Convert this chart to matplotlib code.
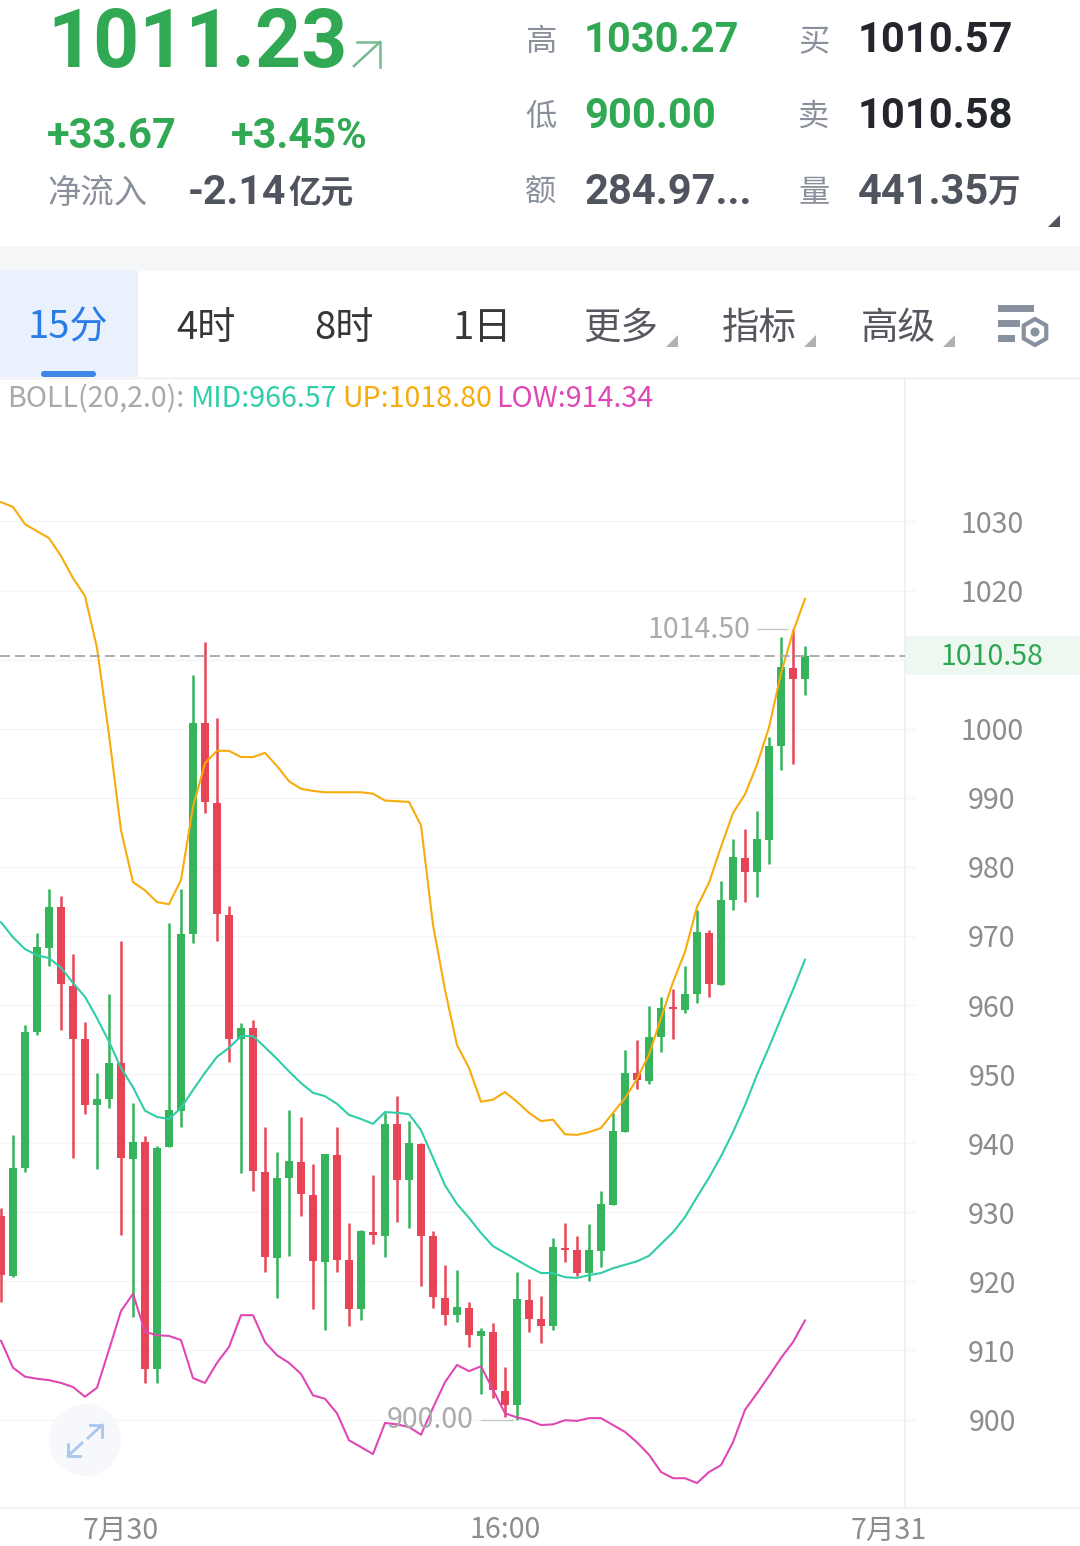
import matplotlib
matplotlib.use("Agg")
import matplotlib.pyplot as plt
from matplotlib.patches import Rectangle, Circle, Polygon, FancyBboxPatch, RegularPolygon

plt.rcParams['font.family'] = ['Noto Sans CJK SC', 'DejaVu Sans']

# 15-minute candles, oldest first
open_ = [929.5, 920.8, 936.4, 956.1, 968.2, 974.2, 962.8, 955.1, 945.5, 946.4, 951.6, 937.7,
         940.2, 907.3, 939.4, 944.7, 970.3, 1000.8, 989.2, 973.0, 955.1, 956.7, 935.8, 923.4,
         935.0, 937.3, 932.5, 922.8, 938.3, 923.1, 916.0, 927.1, 926.6, 942.8, 934.7, 939.9,
         926.6, 917.6, 915.1, 916.1, 912.1, 912.7, 904.1, 902.1, 917.3, 914.5, 913.5, 924.8,
         924.5, 921.2, 924.4, 931.1, 941.6, 950.2, 949.0, 955.4, 959.7, 959.3, 961.6, 970.4,
         962.9, 975.2, 981.3, 979.3, 983.9, 997.5, 1008.8, 1007.2]
high = [930.6, 941.2, 957.1, 970.4, 976.8, 975.8, 967.4, 957.5, 950.2, 961.6, 969.3, 945.8,
        941.0, 939.6, 971.9, 976.8, 1007.8, 1012.6, 1001.5, 974.3, 957.4, 957.8, 942.3, 938.7,
        944.8, 943.8, 937.0, 938.4, 942.3, 928.4, 927.4, 935.4, 944.4, 946.8, 943.2, 940.0,
        927.3, 922.4, 921.6, 917.0, 913.2, 914.0, 907.6, 921.4, 920.3, 917.9, 926.3, 928.4,
        926.6, 928.3, 933.1, 944.4, 953.5, 954.9, 959.9, 961.2, 962.3, 965.6, 973.7, 970.9,
        977.9, 984.1, 985.5, 988.1, 998.8, 1013.3, 1014.5, 1012.0]
low = [917.0, 920.6, 935.8, 955.7, 965.6, 956.4, 937.9, 944.2, 936.3, 945.1, 926.7, 914.8,
       905.3, 905.3, 939.4, 942.3, 969.0, 987.8, 969.3, 951.8, 935.7, 933.1, 921.4, 917.6,
       923.7, 929.5, 916.0, 913.0, 921.4, 913.5, 914.4, 925.4, 923.5, 928.6, 927.7, 919.3,
       916.1, 913.7, 914.1, 910.5, 903.7, 903.1, 900.4, 900.0, 912.7, 911.1, 913.0, 922.8,
       920.8, 920.0, 922.1, 931.1, 941.6, 947.8, 948.6, 953.2, 955.1, 958.8, 960.3, 961.2,
       962.9, 973.8, 974.9, 975.6, 980.4, 994.0, 994.9, 1004.9]
close = [920.9, 936.4, 956.1, 968.4, 974.2, 963.0, 955.1, 945.5, 946.4, 951.6, 937.9, 940.2,
         907.3, 939.3, 944.8, 970.3, 1000.8, 989.4, 973.2, 955.1, 956.7, 936.0, 923.5, 935.0,
         937.4, 932.6, 922.9, 938.4, 923.1, 916.0, 927.3, 926.7, 942.8, 934.7, 940.0, 926.6,
         917.7, 915.1, 916.3, 912.2, 912.8, 904.3, 902.1, 917.4, 914.5, 913.5, 925.0, 924.5,
         921.2, 924.5, 931.2, 941.8, 950.2, 949.1, 955.4, 959.6, 959.4, 961.6, 970.6, 963.0,
         975.2, 981.4, 979.3, 984.0, 997.5, 1009.0, 1007.2, 1010.58]

# Bollinger bands (20, 2.0)
boll_mid = [972.0, 969.8, 968.1, 967.2, 966.8, 965.4, 963.2, 961.2, 958.1, 954.7, 950.9, 948.1,
            944.7, 943.8, 943.5, 945.1, 947.7, 950.2, 952.5, 953.8, 955.5, 955.5, 953.9, 952.2,
            950.4, 948.7, 947.3, 946.8, 945.7, 944.1, 943.5, 942.8, 944.5, 944.4, 944.2, 941.9,
            937.9, 933.9, 931.2, 929.2, 927.0, 925.1, 924.1, 923.1, 922.1, 921.2, 921.2, 920.6,
            920.5, 920.9, 921.2, 921.9, 922.4, 922.9, 923.7, 925.4, 927.1, 929.3, 932.2, 935.0,
            938.1, 941.6, 945.5, 949.9, 953.9, 958.1, 962.2, 966.57]
boll_up = [1032.8, 1032.1, 1029.6, 1028.6, 1027.6, 1025.0, 1021.8, 1019.2, 1011.7, 999.1, 985.3, 977.8,
           976.6, 974.9, 974.6, 978.1, 988.7, 995.0, 996.8, 996.8, 995.9, 995.9, 996.5, 994.6,
           992.4, 991.3, 991.0, 990.8, 990.8, 990.8, 990.8, 990.6, 989.6, 989.5, 989.4, 986.0,
           971.6, 962.2, 954.2, 950.9, 946.0, 946.3, 947.4, 946.0, 944.4, 943.2, 943.4, 941.3,
           941.2, 941.6, 942.2, 944.4, 946.5, 949.3, 952.8, 958.1, 963.3, 967.7, 974.2, 977.7,
           982.9, 987.8, 990.5, 994.8, 1000.2, 1008.0, 1014.0, 1018.80]
boll_low = [911.4, 907.5, 906.2, 905.9, 905.7, 905.3, 904.7, 903.3, 904.6, 910.1, 915.7, 918.2,
            912.7, 912.2, 912.1, 911.5, 906.0, 905.3, 908.2, 910.5, 915.1, 915.1, 911.2, 909.3,
            908.2, 906.6, 903.5, 903.0, 900.9, 897.0, 896.0, 895.0, 899.5, 899.3, 898.9, 897.8,
            901.7, 905.4, 907.9, 907.0, 907.7, 904.3, 900.9, 900.3, 899.9, 899.2, 899.3, 899.9,
            899.8, 900.2, 900.2, 899.2, 898.2, 896.7, 894.9, 892.4, 891.5, 891.5, 890.8, 892.4,
            893.4, 896.7, 901.4, 903.8, 906.3, 908.9, 911.2, 914.34]

y_ticks = [900, 910, 920, 930, 940, 950, 960, 970, 980, 990, 1000, 1010, 1020, 1030]
y_tick_labels = ['900', '910', '920', '930', '940', '950', '960', '970', '980', '990', '1000', '', '1020', '1030']
x_ticks = [10, 42, 74]
x_tick_labels = ['7月30', '16:00', '7月31']
last_price = 1010.58
peak_index, peak_label = 66, '1014.50'
trough_index, trough_label = 43, '900.00'

GREEN = '#35b45b'
RED = '#e74555'
TEAL = '#2fcda9'
ORANGE = '#f8ab0c'
MAGENTA = '#df48b4'
HEADER_GREEN = '#31a853'
GRID = '#f3f4f5'

W, H = 1080, 1546
fig = plt.figure(figsize=(W / 100, H / 100), dpi=100, facecolor='white')


def px_box(x0, y0, x1, y1):
    return [x0 / W, 1 - y1 / H, (x1 - x0) / W, (y1 - y0) / H]


# Price panel
ax = fig.add_axes(px_box(0, 378, 905, 1508))
ax.set_xlim(-1 / 12, 905 / 12 - 1 / 12)
ax.set_ylim(887.19, 1050.77)
ax.set_facecolor('white')
for side in ('top', 'left'):
    ax.spines[side].set_visible(False)
for side in ('right', 'bottom'):
    ax.spines[side].set_color('#eeeff0')
    ax.spines[side].set_linewidth(1.2)

ax.yaxis.tick_right()
ax.set_yticks(y_ticks, y_tick_labels)
ax.tick_params(axis='y', length=7.2, width=0.9, color=GRID, pad=55.4, labelsize=20.6, labelcolor='#8c8c8c')
for lbl in ax.get_yticklabels():
    lbl.set_ha('center')
    lbl.set_va('center_baseline')
ax.set_xticks(x_ticks, x_tick_labels)
ax.tick_params(axis='x', length=0, pad=5.4, labelsize=20.6, labelcolor='#8c8c8c')
ax.grid(axis='y', color=GRID, linewidth=0.9, zorder=0)
ax.set_axisbelow(True)

# Candles: thin wick plus a wider body
for i, (o, h, l, c) in enumerate(zip(open_, high, low, close)):
    col = GREEN if c >= o else RED
    ax.vlines(i, l, h, color=col, linewidth=1.8, zorder=2)
    ax.bar(i, abs(c - o), bottom=min(o, c), width=0.67, color=col, linewidth=0, zorder=2)

xs = list(range(len(close)))
ax.plot(xs, boll_mid, color=TEAL, linewidth=1.5, zorder=3)
ax.plot(xs, boll_up, color=ORANGE, linewidth=1.5, zorder=3)
ax.plot(xs, boll_low, color=MAGENTA, linewidth=1.5, zorder=3)

# Last-price marker across the panel and into the axis gutter
ax.axhline(last_price, color='#ababab', linewidth=1.4, dashes=(5.14, 2.57), zorder=4)
ax.add_patch(Rectangle((1, last_price - 2.8), 175 / 905, 5.6, transform=ax.get_yaxis_transform(),
                       facecolor='#ecf8f0', edgecolor='none', clip_on=False, zorder=1))
ax.annotate(f'{last_price:.2f}', xy=(1, last_price), xycoords=ax.get_yaxis_transform(),
            xytext=(62.6, -1.2), textcoords='offset points', ha='center', va='center',
            fontsize=20.6, color='#2fa752', annotation_clip=False, zorder=5)

# High and low callouts
ax.annotate(peak_label, xy=(peak_index, high[peak_index]), xytext=(-31, -1), textcoords='offset points',
            ha='right', va='center', fontsize=20.6, color='#ababab', zorder=5)
ax.plot([peak_index - 3.0, peak_index - 0.5], [high[peak_index]] * 2, color='#c4c4c4', linewidth=0.9, zorder=5)
ax.annotate(trough_label, xy=(trough_index, low[trough_index]), xytext=(-31, -0.6), textcoords='offset points',
            ha='right', va='center', fontsize=20.6, color='#ababab', zorder=5)
ax.plot([trough_index - 3.0, trough_index - 0.3], [low[trough_index]] * 2, color='#c4c4c4', linewidth=0.9, zorder=5)

# Screen furniture in pixel coordinates, drawn above the panel
ui = fig.add_axes([0, 0, 1, 1], facecolor='none')
ui.set_xlim(0, W)
ui.set_ylim(H, 0)
ui.axis('off')

ui.add_patch(Rectangle((0, 246), W, 25, facecolor='#f5f6f8', edgecolor='none'))
ui.add_patch(Rectangle((0, 271), 138, 106, facecolor='#e8f1fd', edgecolor='none'))
ui.add_patch(FancyBboxPatch((41, 371), 55, 6, boxstyle='round,pad=0,rounding_size=3', facecolor='#3f86e8', edgecolor='none'))
ui.plot([0, W], [377.5, 377.5], color='#eeeff0', linewidth=1)
ui.plot([905, W], [1508, 1508], color='#eeeff0', linewidth=1.2)

HEAD = ['Roboto', 'Noto Sans CJK SC']
CJK = ['Noto Sans CJK SC', 'DejaVu Sans']


def put(x, y, s, size, color, bold=False, family=None, ha='left'):
    ui.text(x, y, s, fontsize=size, color=color, fontweight='bold' if bold else 'normal',
            family=family or CJK, ha=ha, va='center')


put(47, 45, '1011.23', 58, HEADER_GREEN, True, HEAD)
ui.plot([354, 380], [66, 42], color='#74bb8d', linewidth=1.8)
ui.plot([357, 380, 380], [42, 42, 67], color='#74bb8d', linewidth=1.8)
put(47, 136, '+33.67', 30, HEADER_GREEN, True, HEAD)
put(231, 136, '+3.45%', 30, HEADER_GREEN, True, HEAD)
put(47, 193, '净流入', 24, '#8a909b')
put(188, 193, '-2.14', 29.5, '#50545e', True, HEAD)
put(288, 193, '亿元', 23.5, '#50545e', True, CJK)

for y, lab, val, col in [(41, '高', '1030.27', HEADER_GREEN), (116, '低', '900.00', HEADER_GREEN),
                         (192, '额', '284.97...', '#50545e')]:
    put(525, y + 1, lab, 22.5, '#8a909b')
    put(584, y, val, 30, col, True, HEAD)
for y, lab, val, col in [(41, '买', '1010.57', '#23262c'), (116, '卖', '1010.58', '#23262c')]:
    put(798, y + 1, lab, 22.5, '#8a909b')
    put(858, y, val, 30, col, True, HEAD)
put(798, 193, '量', 22.5, '#8a909b')
put(858, 192, '441.35', 30, '#50545e', True, HEAD)
put(987, 193, '万', 23.5, '#50545e', True, CJK)
ui.add_patch(Polygon([(1048, 227), (1060, 227), (1060, 215)], facecolor='#50545e', edgecolor='none'))

put(68, 328, '15分', 27.5, '#2a7de6', ha='center')
put(206, 328, '4时', 27.5, '#35373b', ha='center')
put(344, 328, '8时', 27.5, '#35373b', ha='center')
put(482, 328, '1日', 27.5, '#35373b', ha='center')
put(621, 328, '更多', 27, '#55585e', ha='center')
put(759, 328, '指标', 27, '#55585e', ha='center')
put(898, 328, '高级', 27, '#55585e', ha='center')
for x in (666, 804, 943):
    ui.add_patch(Polygon([(x, 347), (x + 12, 347), (x + 12, 335)], facecolor='#aeb1b6', edgecolor='none'))

# Settings glyph: three bars and a hex nut
for (x0, x1, y0) in [(998, 1034, 305), (998, 1020, 320), (998, 1015, 335)]:
    ui.add_patch(Rectangle((x0, y0), x1 - x0, 7, facecolor='#8791a0', edgecolor='none'))
ui.add_patch(RegularPolygon((1035, 332), 6, radius=13, facecolor='white', edgecolor='#8791a0', linewidth=3))
ui.add_patch(Circle((1035, 332), 4.5, facecolor='#8791a0', edgecolor='none'))

# Indicator legend
put(7, 399, 'BOLL(20,2.0):', 20.6, '#a9a9a9')
put(190, 399, 'MID:966.57', 20.6, TEAL)
put(342, 399, 'UP:1018.80', 20.6, ORANGE)
put(496, 399, 'LOW:914.34', 20.6, MAGENTA)

# Fullscreen button
ui.add_patch(Circle((85, 1440), 36, facecolor='#f6f8fc', edgecolor='none', alpha=0.9))
ui.plot([88, 102], [1438, 1425], color='#a9c6ef', linewidth=2)
ui.plot([90, 102, 102], [1425, 1425, 1437], color='#a9c6ef', linewidth=2)
ui.plot([82, 68], [1443, 1456], color='#a9c6ef', linewidth=2)
ui.plot([68, 68, 80], [1444, 1456, 1456], color='#a9c6ef', linewidth=2)

fig.savefig('out.png', dpi=100)
